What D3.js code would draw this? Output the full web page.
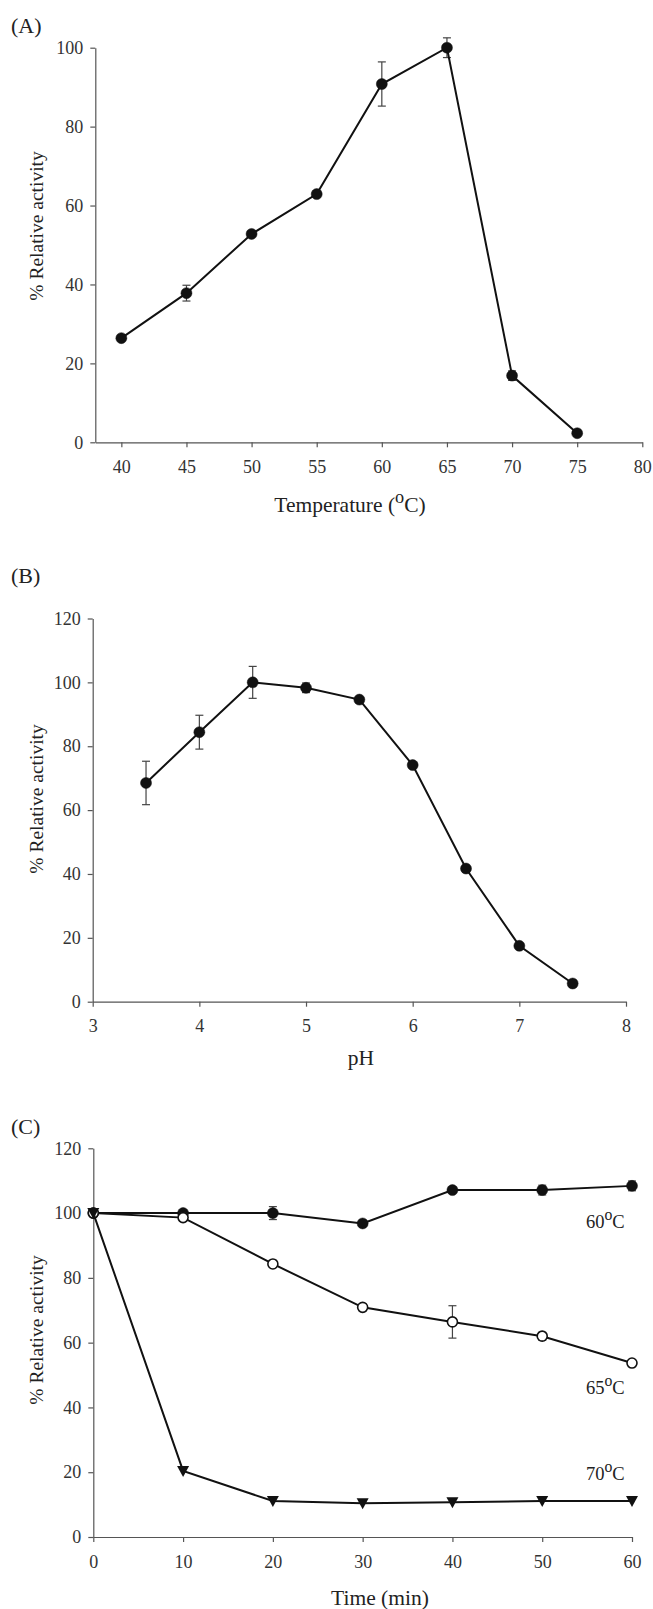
<!DOCTYPE html>
<html>
<head>
<meta charset="utf-8">
<script src="https://cdn.jsdelivr.net/npm/d3@7"></script>
<style>
  body { margin: 0; background: #fff; }
  text { font-family: "Liberation Serif", "Times New Roman", serif; fill: #222; }
  .axis path, .axis line { stroke: #555; stroke-width: 1.2; }
  .axis text { font-size: 18px; fill: #333; font-family: "Liberation Serif", serif; }
</style>
</head>
<body>
<script>
// (A) temperature profile
var tempX = [40, 45, 50, 55, 60, 65, 70, 75]
var tempY = [26.4, 37.8, 52.8, 62.9, 90.8, 100, 16.9, 2.3]
var tempErr = [0.8, 2.0, 0.8, 0.8, 5.6, 2.5, 1.2, 0.3]
var tempTicks = [40, 45, 50, 55, 60, 65, 70, 75, 80]

// (B) pH profile
var phX = [3.5, 4, 4.5, 5, 5.5, 6, 6.5, 7, 7.5]
var phY = [68.5, 84.4, 100, 98.3, 94.6, 74.1, 41.7, 17.5, 5.7]
var phErr = [6.8, 5.3, 5.0, 1.5, 0.8, 0.8, 1.0, 0.5, 0.5]
var phTicks = [3, 4, 5, 6, 7, 8]

// (C) thermal stability
var timeX = [0, 10, 20, 30, 40, 50, 60]
var stab60 = [100, 100, 100, 96.8, 107.1, 107.1, 108.4]
var stab60Err = [0.5, 0.5, 2.0, 0.5, 0.5, 1.5, 1.5]
var stab65 = [100, 98.6, 84.3, 70.9, 66.4, 62.0, 53.7]
var stab65Err = [0.5, 0.5, 0.5, 0.5, 5.0, 1.2, 0.5]
var stab70 = [100, 20.4, 11.1, 10.4, 10.7, 11.1, 11.1]
var stab70Err = [0.5, 0.8, 0.8, 0.5, 0.5, 0.8, 0.8]
var timeTicks = [0, 10, 20, 30, 40, 50, 60]
var stabLabels = ['60', '65', '70']

var svg = d3.select('body').append('svg')
	.attr('width', 653)
	.attr('height', 1609)

function zip(xs, ys, es) {
	return xs.map(function (x, i) { return { x: x, y: ys[i], e: es[i] } })
}

// degree-like superscript "o" label
function degText(g, x, y, pre, post, size, anchor) {
	var t = g.append('text')
		.attr('x', x).attr('y', y)
		.style('font-size', size + 'px')
		.attr('text-anchor', anchor || 'start')
	t.append('tspan').text(pre)
	t.append('tspan').attr('dy', -size * 0.42).style('font-size', (size * 0.85) + 'px').text('o')
	t.append('tspan').attr('dy', size * 0.42).text(post)
	return t
}

function panel(opt) {
	var g = svg.append('g')
	var x = d3.scaleLinear().domain(opt.xDomain).range(opt.xRange)
	var y = d3.scaleLinear().domain(opt.yDomain).range(opt.yRange)

	g.append('g')
		.attr('class', 'axis')
		.attr('transform', 'translate(0,' + opt.yRange[0] + ')')
		.call(d3.axisBottom(x).tickValues(opt.xTicks).tickFormat(d3.format('d'))
			.tickSize(5).tickSizeOuter(0).tickPadding(13))
	g.append('g')
		.attr('class', 'axis')
		.attr('transform', 'translate(' + opt.xRange[0] + ',0)')
		.call(d3.axisLeft(y).tickValues(opt.yTicks).tickSize(5).tickSizeOuter(0).tickPadding(7))

	// panel letter
	g.append('text')
		.attr('x', 11).attr('y', opt.letterY)
		.style('font-size', '22px')
		.text(opt.letter)

	// y title
	g.append('text')
		.attr('transform', 'translate(43,' + opt.yTitleY + ') rotate(-90)')
		.attr('text-anchor', 'middle')
		.style('font-size', '19.5px')
		.text('% Relative activity')

	var line = d3.line().x(function (d) { return x(d.x) }).y(function (d) { return y(d.y) })

	opt.series.forEach(function (s) {
		var pts = s.data
		// error bars
		var eb = g.append('g').attr('stroke', '#444').attr('stroke-width', 1.2)
		pts.forEach(function (d) {
			if (d.e < 1) return
			var cx = x(d.x)
			eb.append('line').attr('x1', cx).attr('x2', cx).attr('y1', y(d.y - d.e)).attr('y2', y(d.y + d.e))
			eb.append('line').attr('x1', cx - 4).attr('x2', cx + 4).attr('y1', y(d.y - d.e)).attr('y2', y(d.y - d.e))
			eb.append('line').attr('x1', cx - 4).attr('x2', cx + 4).attr('y1', y(d.y + d.e)).attr('y2', y(d.y + d.e))
		})
		g.append('path')
			.datum(pts)
			.attr('d', line)
			.attr('fill', 'none')
			.attr('stroke', '#111')
			.attr('stroke-width', 2)
		if (s.marker === 'triangle') {
			g.selectAll(null).data(pts).enter().append('path')
				.attr('d', 'M-6,-5L6,-5L0,6Z')
				.attr('transform', function (d) { return 'translate(' + x(d.x) + ',' + y(d.y) + ')' })
				.attr('fill', '#111')
		} else {
			g.selectAll(null).data(pts).enter().append('circle')
				.attr('cx', function (d) { return x(d.x) })
				.attr('cy', function (d) { return y(d.y) })
				.attr('r', s.marker === 'open' ? 5 : 5.5)
				.attr('fill', s.marker === 'open' ? '#fff' : '#111')
				.attr('stroke', '#111')
				.attr('stroke-width', s.marker === 'open' ? 1.6 : 0.5)
		}
	})
	return { g: g, x: x, y: y }
}

// (A)
var pA = panel({
	letter: '(A)', letterY: 33,
	xDomain: [38, 80], xRange: [95.3, 642.3], xTicks: tempTicks,
	yDomain: [0, 100], yRange: [442.3, 47.7], yTicks: [0, 20, 40, 60, 80, 100],
	yTitleY: 226,
	series: [{ data: zip(tempX, tempY, tempErr), marker: 'filled' }]
})
degText(pA.g, 350, 512, 'Temperature (', 'C)', 21.5, 'middle')

// (B)
var pB = panel({
	letter: '(B)', letterY: 583,
	xDomain: [3, 8], xRange: [92.7, 626], xTicks: phTicks,
	yDomain: [0, 120], yRange: [1001.7, 618.5], yTicks: [0, 20, 40, 60, 80, 100, 120],
	yTitleY: 799,
	series: [{ data: zip(phX, phY, phErr), marker: 'filled' }]
})
pB.g.append('text').attr('x', 361).attr('y', 1065).attr('text-anchor', 'middle')
	.style('font-size', '21.5px').text('pH')

// (C)
var pC = panel({
	letter: '(C)', letterY: 1134,
	xDomain: [0, 60], xRange: [93.3, 632], xTicks: timeTicks,
	yDomain: [0, 120], yRange: [1537, 1148.3], yTicks: [0, 20, 40, 60, 80, 100, 120],
	yTitleY: 1330,
	series: [
		{ data: zip(timeX, stab60, stab60Err), marker: 'filled' },
		{ data: zip(timeX, stab65, stab65Err), marker: 'open' },
		{ data: zip(timeX, stab70, stab70Err), marker: 'triangle' }
	]
})
pC.g.append('text').attr('x', 380).attr('y', 1605).attr('text-anchor', 'middle')
	.style('font-size', '21.5px').text('Time (min)')
degText(pC.g, 586, 1228, stabLabels[0], 'C', 18.5)
degText(pC.g, 586, 1394, stabLabels[1], 'C', 18.5)
degText(pC.g, 586, 1480, stabLabels[2], 'C', 18.5)
</script>
</body>
</html>
